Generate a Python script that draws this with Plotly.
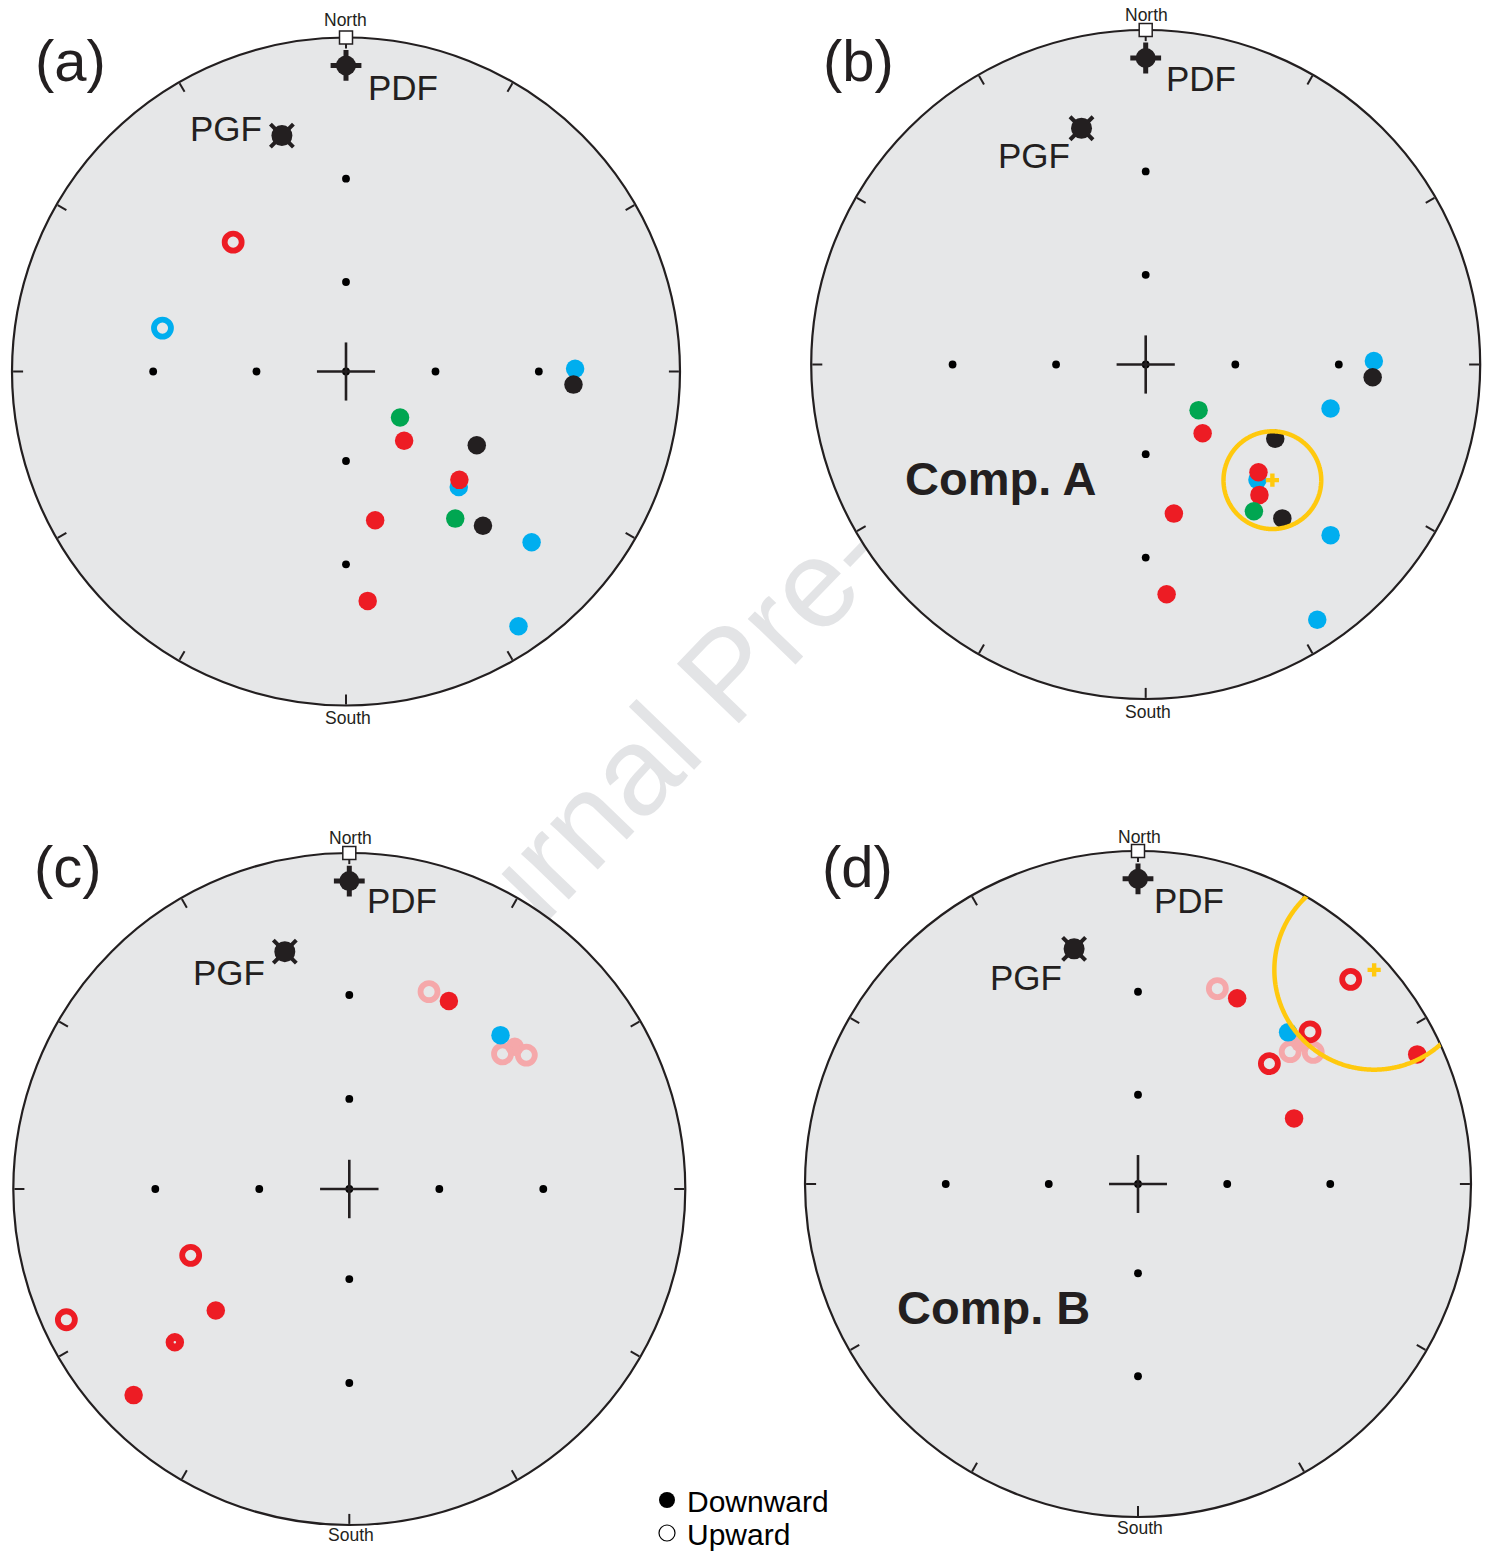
import numpy as np
import plotly.graph_objects as go

W, H = 1493, 1552
FONT = "Liberation Sans, Arial, Helvetica, sans-serif"

RED, BLUE, GREEN, BLACK = "#ed1c24", "#00aeef", "#00a651", "#231f20"
PINK, YELLOW, FILL = "#f5a8aa", "#ffc90e", "#e6e7e8"
WATERMARK = "#e3e4e6"

# ---------------- data: declination / inclination (deg); negative inc = upward ----------------
pdf_dec, pdf_inc = [0.0], [5.0]            # present dipole field
pgf_dec, pgf_inc = [344.8], [17.6]         # present geomagnetic field

# reference dots of the net (inclination 30 and 60 on the four cardinal directions, and centre)
grid_dec = [0, 0, 90, 90, 180, 180, 270, 270, 0]
grid_inc = [30, 60, 30, 60, 30, 60, 30, 60, 90]

# Panel (a)
a_blue_dec, a_blue_inc = [89.3, 135.7, 132.6, 145.9], [21.1, 38.4, 15.9, 4.7]
a_black_dec, a_black_inc = [93.3, 119.4, 138.4], [21.4, 41.6, 26.6]
a_green_dec, a_green_inc = [130.4, 143.4], [66.0, 32.5]
a_red_dec, a_red_inc = [140.0, 133.7, 168.9, 174.6], [59.7, 39.7, 41.2, 20.8]
a_blue_up_dec, a_blue_up_inc = [283.3], [-31.1]
a_red_up_dec, a_red_up_inc = [318.9], [-35.6]

# Panel (b) - Comp. A
b_blue_dec, b_blue_inc = [89.1, 103.4, 135.9, 132.7, 146.1], [21.4, 30.8, 38.7, 16.1, 4.8]
b_black_dec, b_black_inc = [93.2, 119.8, 138.4], [21.6, 41.9, 26.8]
b_green_dec, b_green_inc = [130.8, 143.6], [66.4, 32.8]
b_red_dec, b_red_inc = [140.4, 133.7, 138.9, 169.3, 174.8], [60.1, 40.0, 35.3, 41.2, 20.8]
b_mean_dec, b_mean_inc, b_a95 = [132.4], [35.7], 13.15

# Panel (c)
c_pink_dec, c_pink_inc = [49.3], [24.0]
c_pink_up_dec, c_pink_up_inc = [22.0, 48.6, 52.9], [-25.3, -27.4, -23.1]
c_blue_dec, c_blue_inc = [44.5], [24.6]
c_red_dec, c_red_inc = [27.9, 227.7, 226.3], [25.3, 33.5, 6.8]
c_red_up_dec, c_red_up_inc = [247.3, 245.2], [-35.8, -4.3]
c_red_mix_dec, c_red_mix_inc = [228.7], [20.7]

# Panel (d) - Comp. B
d_pink_dec, d_pink_inc = [48.9], [24.3]
d_pink_up_dec, d_pink_up_inc = [22.1, 49.0, 53.1], [-25.3, -27.6, -23.3]
d_blue_dec, d_blue_inc = [44.7], [24.7]
d_red_dec, d_red_inc = [28.1, 67.2, 65.1], [25.4, 36.1, 4.5]
d_red_up_dec, d_red_up_inc = [48.5, 47.5, 46.1], [-20.8, -33.7, -6.9]
d_mean_dec, d_mean_inc, d_a95 = [47.8], [2.5], 17.4

# ---------------- panel geometry (pixels) and labels ----------------
panels = [
    dict(pid="polar", cx=346.0, cy=371.5, R=334.0, label="(a)", lab=(70.5, 61),
         pdf=(403, 87), pgf=(226, 128), north=(345.5, 20), south=(347.5, 718), comp=None),
    dict(pid="polar2", cx=1145.7, cy=364.5, R=334.5, label="(b)", lab=(858, 61),
         pdf=(1201, 78.5), pgf=(1034, 155.5), north=(1146.7, 15), south=(1148, 712),
         comp=("Comp. A", 1000.5, 478)),
    dict(pid="polar3", cx=349.3, cy=1189.0, R=336.0, label="(c)", lab=(68, 866),
         pdf=(402, 900), pgf=(229, 972), north=(350.3, 838.3), south=(351, 1535), comp=None),
    dict(pid="polar4", cx=1138.0, cy=1184.0, R=333.0, label="(d)", lab=(857, 866),
         pdf=(1189, 900.5), pgf=(1026, 977), north=(1139, 837), south=(1140, 1528),
         comp=("Comp. B", 993, 1307)),
]


def proj(inc):
    """Stereographic (Wulff) projection radius for a given inclination."""
    return np.tan(np.radians(90.0 - np.abs(np.asarray(inc, float))) / 2.0)


def pts(pid, dec, inc, **marker):
    return go.Scatterpolar(r=proj(inc), theta=np.asarray(dec, float), mode="markers",
                           subplot=pid, marker=marker, showlegend=False, hoverinfo="skip")


def filled(pid, dec, inc, color):
    return pts(pid, dec, inc, symbol="circle", size=18.5, color=color, line=dict(width=0))


def ring(pid, dec, inc, color):
    return pts(pid, dec, inc, symbol="circle-open", size=17, color=color,
               line=dict(width=5.8, color=color))


def cone(pid, dec, inc, a95):
    d0 = np.radians(dec[0])
    r0 = proj(inc)[0]
    th0 = 90.0 - abs(inc[0])
    rho = (np.tan(np.radians(th0 + a95) / 2) - np.tan(np.radians(th0 - a95) / 2)) / 2
    t = np.linspace(0, 2 * np.pi, 721)
    x = r0 * np.sin(d0) + rho * np.cos(t)
    y = r0 * np.cos(d0) + rho * np.sin(t)
    return go.Scatterpolar(r=np.hypot(x, y), theta=np.degrees(np.arctan2(x, y)), mode="lines",
                           subplot=pid, line=dict(color=YELLOW, width=4.5),
                           showlegend=False, hoverinfo="skip")


fig = go.Figure()

# watermark on a hidden page-sized cartesian axis (sits below the nets)
fig.add_trace(go.Bar(x=[727], base=[623], y=[100], width=[100], text=["Journal Pre-proof"],
                     textposition="inside", insidetextanchor="middle", textangle=-46,
                     constraintext="none", cliponaxis=False,
                     insidetextfont=dict(size=125, color=WATERMARK, family=FONT),
                     marker=dict(color="rgba(0,0,0,0)", line=dict(width=0)),
                     showlegend=False, hoverinfo="skip"))

# legend entries
fig.add_trace(go.Scatter(x=[None], y=[None], mode="markers", name="Downward",
                         marker=dict(symbol="circle", size=16, color="black"), legend="legend"))
fig.add_trace(go.Scatter(x=[None], y=[None], mode="markers", name="Upward",
                         marker=dict(symbol="circle", size=16, color="white",
                                     line=dict(color="black", width=1.2)), legend="legend2"))

arm = 0.087
for P in panels:
    pid = P["pid"]
    fig.add_trace(pts(pid, grid_dec, grid_inc, symbol="circle", size=7.8, color="black"))
    fig.add_trace(go.Scatterpolar(r=[arm, 0, arm, None, arm, 0, arm],
                                  theta=[90, 0, 270, None, 0, 0, 180], mode="lines",
                                  subplot=pid, line=dict(color=BLACK, width=2.6),
                                  showlegend=False, hoverinfo="skip"))

# panel (a)
fig.add_trace(filled("polar", a_blue_dec, a_blue_inc, BLUE))
fig.add_trace(filled("polar", a_black_dec, a_black_inc, BLACK))
fig.add_trace(filled("polar", a_green_dec, a_green_inc, GREEN))
fig.add_trace(filled("polar", a_red_dec, a_red_inc, RED))
fig.add_trace(ring("polar", a_blue_up_dec, a_blue_up_inc, BLUE))
fig.add_trace(ring("polar", a_red_up_dec, a_red_up_inc, RED))

# panel (b)
fig.add_trace(filled("polar2", b_blue_dec, b_blue_inc, BLUE))
fig.add_trace(filled("polar2", b_black_dec, b_black_inc, BLACK))
fig.add_trace(filled("polar2", b_red_dec, b_red_inc, RED))
fig.add_trace(filled("polar2", b_green_dec, b_green_inc, GREEN))
fig.add_trace(cone("polar2", b_mean_dec, b_mean_inc, b_a95))
fig.add_trace(pts("polar2", b_mean_dec, b_mean_inc, symbol="cross", size=11, color=YELLOW,
                  line=dict(width=0)))

# panel (c)
fig.add_trace(filled("polar3", c_pink_dec, c_pink_inc, PINK))
fig.add_trace(ring("polar3", c_pink_up_dec, c_pink_up_inc, PINK))
fig.add_trace(filled("polar3", c_blue_dec, c_blue_inc, BLUE))
fig.add_trace(filled("polar3", c_red_dec, c_red_inc, RED))
fig.add_trace(ring("polar3", c_red_up_dec, c_red_up_inc, RED))
fig.add_trace(pts("polar3", c_red_mix_dec, c_red_mix_inc, symbol="circle-open", size=10.5,
                  color=RED, line=dict(width=8, color=RED)))

# panel (d)
fig.add_trace(filled("polar4", d_pink_dec, d_pink_inc, PINK))
fig.add_trace(ring("polar4", d_pink_up_dec, d_pink_up_inc, PINK))
fig.add_trace(filled("polar4", d_blue_dec, d_blue_inc, BLUE))
fig.add_trace(filled("polar4", d_red_dec, d_red_inc, RED))
fig.add_trace(ring("polar4", d_red_up_dec, d_red_up_inc, RED))
fig.add_trace(cone("polar4", d_mean_dec, d_mean_inc, d_a95))
fig.add_trace(pts("polar4", d_mean_dec, d_mean_inc, symbol="cross", size=11, color=YELLOW,
                  line=dict(width=0)))

# reference field directions and north marker
for P in panels:
    pid = P["pid"]
    fig.add_trace(pts(pid, pdf_dec, pdf_inc, symbol="cross-thin", size=22, color=BLACK,
                      line=dict(width=5, color=BLACK)))
    fig.add_trace(pts(pid, pdf_dec, pdf_inc, symbol="circle", size=20, color=BLACK,
                      line=dict(width=0)))
    fig.add_trace(pts(pid, pgf_dec, pgf_inc, symbol="x-thin", size=23, color=BLACK,
                      line=dict(width=4, color=BLACK)))
    fig.add_trace(pts(pid, pgf_dec, pgf_inc, symbol="square", size=17, color=BLACK,
                      line=dict(width=0)))
    fig.add_trace(pts(pid, pgf_dec, pgf_inc, symbol="circle", size=21, color=BLACK,
                      line=dict(width=0)))
    tr = go.Scatterpolar(r=[1.0], theta=[0.0], mode="markers", subplot=pid, cliponaxis=False,
                         marker=dict(symbol="square", size=13, color="white",
                                     line=dict(color=BLACK, width=1.5)),
                         showlegend=False, hoverinfo="skip")
    fig.add_trace(tr)

polar_common = dict(
    bgcolor=FILL,
    radialaxis=dict(visible=False, range=[0, 1]),
    angularaxis=dict(rotation=90, direction="clockwise", showgrid=False, showline=True,
                     linecolor=BLACK, linewidth=2.2, ticks="inside", ticklen=10, tickwidth=2,
                     tickcolor=BLACK, tickmode="linear", tick0=0, dtick=30,
                     showticklabels=False, layer="below traces"),
)

layout = dict(
    width=W, height=H, autosize=False,
    margin=dict(l=0, r=0, t=0, b=0, pad=0, autoexpand=False),
    paper_bgcolor="white", plot_bgcolor="rgba(0,0,0,0)",
    font=dict(family=FONT, color=BLACK),
    xaxis=dict(domain=[0, 1], range=[0, W], visible=False, fixedrange=True),
    yaxis=dict(domain=[0, 1], range=[H, 0], visible=False, fixedrange=True),
    showlegend=True,
    legend=dict(x=647 / W, y=1 - 1500 / H, xanchor="left", yanchor="middle",
                font=dict(size=30, family=FONT, color="black"), bgcolor="rgba(0,0,0,0)",
                borderwidth=0),
    legend2=dict(x=647 / W, y=1 - 1533 / H, xanchor="left", yanchor="middle",
                 font=dict(size=30, family=FONT, color="black"), bgcolor="rgba(0,0,0,0)",
                 borderwidth=0),
)

annotations = []


def ann(text, x, y, size, bold=False):
    annotations.append(dict(text=f"<b>{text}</b>" if bold else text, x=x / W, y=1 - y / H,
                            xref="paper", yref="paper", xanchor="center", yanchor="middle",
                            showarrow=False, font=dict(size=size, family=FONT, color=BLACK)))


for P in panels:
    cx, cy, R = P["cx"], P["cy"], P["R"]
    layout[P["pid"]] = dict(polar_common,
                            domain=dict(x=[(cx - R) / W, (cx + R) / W],
                                        y=[(H - cy - R) / H, (H - cy + R) / H]))
    ann(P["label"], *P["lab"], 58)
    ann("PDF", *P["pdf"], 35)
    ann("PGF", *P["pgf"], 35)
    ann("North", *P["north"], 17.5)
    ann("South", *P["south"], 17.5)
    if P["comp"]:
        ann(P["comp"][0], P["comp"][1], P["comp"][2], 47, bold=True)

layout["annotations"] = annotations
fig.update_layout(**layout)
fig.write_html("out.html")
